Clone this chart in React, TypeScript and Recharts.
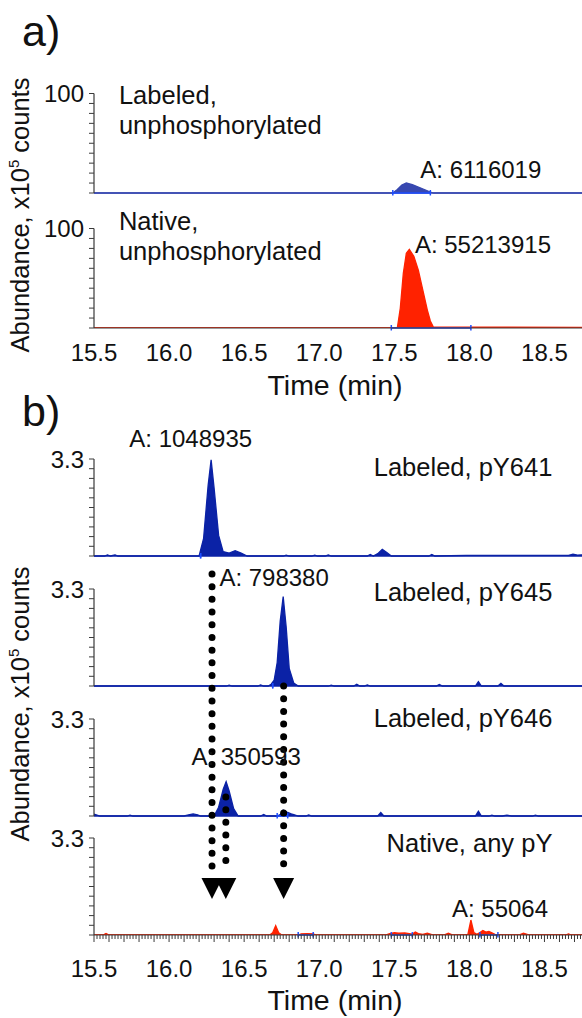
import React from "react";
import { ComposedChart, Area, XAxis, YAxis, ReferenceLine, ReferenceDot } from "recharts";

type Pt = [number, number];

// time (min), abundance. Panel a in x10^5 counts (0-100), panel b (0-3.3)
const labeledUnphos: Pt[] = [
  [15.5, 0], [17.49, 0], [17.52, 3.5], [17.55, 8], [17.58, 10], [17.62, 8.5], [17.66, 6],
  [17.7, 3.5], [17.74, 1], [17.76, 0], [18.75, 0],
];
const nativeUnphos: Pt[] = [
  [15.5, 0], [17.52, 0], [17.54, 20], [17.56, 55], [17.58, 75], [17.6, 79], [17.63, 72],
  [17.66, 58], [17.69, 38], [17.72, 18], [17.74, 7], [17.76, 1], [18.75, 0.5],
];
const labeledPY641: Pt[] = [
  [15.5, 0], [15.57, 0], [15.59, 0.04], [15.61, 0], [15.64, 0.04], [15.66, 0], [16.2, 0],
  [16.23, 0.6], [16.26, 2.4], [16.28, 3.27], [16.3, 2.3], [16.33, 0.7], [16.36, 0.15],
  [16.4, 0.1], [16.44, 0.18], [16.48, 0.1], [16.52, 0], [16.76, 0], [16.78, 0.03], [16.8, 0],
  [16.95, 0], [16.97, 0.03], [16.99, 0], [17.04, 0], [17.06, 0.04], [17.08, 0], [17.32, 0],
  [17.34, 0.05], [17.36, 0], [17.39, 0.08], [17.42, 0.23], [17.45, 0.12], [17.48, 0],
  [17.73, 0], [17.75, 0.05], [17.77, 0], [17.98, 0.02], [18.66, 0.02], [18.69, 0.06],
  [18.72, 0.03], [18.75, 0.04],
];
const labeledPY645: Pt[] = [
  [15.5, 0], [16.38, 0], [16.4, 0.03], [16.42, 0], [16.59, 0], [16.61, 0.04], [16.63, 0],
  [16.66, 0], [16.68, 0.06], [16.7, 0.2], [16.72, 0.8], [16.74, 2.2], [16.76, 3.04],
  [16.78, 2.0], [16.8, 0.6], [16.83, 0.1], [16.86, 0], [17.06, 0], [17.08, 0.03], [17.1, 0],
  [17.23, 0], [17.25, 0.06], [17.27, 0], [17.3, 0], [17.32, 0.04], [17.34, 0], [17.78, 0],
  [17.8, 0.05], [17.82, 0], [18.04, 0], [18.06, 0.15], [18.08, 0], [18.19, 0], [18.21, 0.09],
  [18.23, 0], [18.75, 0],
];
const labeledPY646: Pt[] = [
  [15.5, 0.06], [15.52, 0.03], [15.54, 0], [15.72, 0], [15.74, 0.03], [15.76, 0], [16.1, 0],
  [16.13, 0.04], [16.16, 0.07], [16.19, 0.04], [16.21, 0], [16.3, 0], [16.33, 0.3],
  [16.36, 0.9], [16.38, 1.17], [16.4, 0.85], [16.43, 0.25], [16.46, 0], [16.61, 0],
  [16.63, 0.05], [16.65, 0], [16.72, 0], [16.74, 0.05], [16.76, 0.2], [16.79, 0.12],
  [16.82, 0.06], [16.84, 0.03], [16.86, 0], [16.91, 0], [16.93, 0.04], [16.95, 0], [17.39, 0],
  [17.41, 0.12], [17.43, 0], [18.04, 0], [18.06, 0.16], [18.08, 0], [18.13, 0], [18.15, 0.03],
  [18.17, 0], [18.22, 0], [18.25, 0.03], [18.28, 0], [18.42, 0], [18.44, 0.03], [18.46, 0],
  [18.75, 0],
];
const nativeAnyPY: Pt[] = [
  [15.5, 0], [15.56, 0], [15.58, 0.05], [15.6, 0], [16.67, 0], [16.69, 0.08], [16.71, 0.32],
  [16.73, 0.08], [16.75, 0], [16.86, 0], [16.88, 0.04], [16.92, 0.05], [16.96, 0.04],
  [16.98, 0], [17.44, 0], [17.47, 0.05], [17.5, 0.08], [17.53, 0.06], [17.57, 0.07],
  [17.6, 0.05], [17.62, 0.03], [17.64, 0.1], [17.66, 0.05], [17.69, 0.02], [17.72, 0.06],
  [17.75, 0.01], [17.77, 0], [17.83, 0], [17.86, 0.06], [17.89, 0], [17.97, 0], [17.99, 0.02],
  [18.01, 0.51], [18.03, 0.08], [18.05, 0.02], [18.07, 0.08], [18.09, 0.15], [18.11, 0.1],
  [18.13, 0.12], [18.15, 0.07], [18.17, 0.02], [18.2, 0], [18.33, 0], [18.36, 0.06], [18.4, 0],
  [18.64, 0], [18.66, 0.04], [18.68, 0], [18.75, 0],
];

// integration windows (start, end) in min
const labeledUnphosMarks: Pt[] = [[17.49, 17.74]];
const nativeUnphosMarks: Pt[] = [[17.48, 18.01]];
const pY641Marks: Pt[] = [[16.21, 16.21]];
const pY645Marks: Pt[] = [[16.69, 16.69]];
const pY646Marks: Pt[] = [[16.72, 16.79]];
const nativeAnyMarks: Pt[] = [[16.86, 16.96], [17.48, 17.62], [18.07, 18.19]];

const X_LABELS = [15.5, 16.0, 16.5, 17.0, 17.5, 18.0, 18.5];
const X_FINE = Array.from({ length: 163 }, (_, i) => Math.round((15.5 + i * 0.02) * 100) / 100);

const FONT = '"Liberation Sans", Arial, Helvetica, sans-serif';
const AXIS = "#3a3a3a";
const INK = "#111";
const BLUE = "#0b22a6";
const BLUE_A = "#3848b0";
const RED = "#ff2200";
const MARK = "#1d4dff";
const TICK_FS = 24;
const TITLE_FS = 25.5;
const AREA_FS = 24;

interface Trace { data: Pt[]; color: string; marks: Pt[] }
interface Note { text: string; sub: number; t: number; h: number; anchor: "start" | "middle" | "end"; size: number }
interface Arrow { t: number; from: number; to: number }
interface PanelCfg {
  top: number;
  bases: number[];
  pxPerSub: number;
  ymax: number;
  topLabel: string;
  traces: Trace[];
  notes: Note[];
  arrows: Arrow[];
  fine: boolean;
  labelDy: number;
}

const panelA: PanelCfg = {
  top: 60,
  bases: [193, 328],
  pxPerSub: 99.5,
  ymax: 100,
  topLabel: "100",
  fine: false,
  labelDy: 24,
  traces: [
    { data: labeledUnphos, color: BLUE_A, marks: labeledUnphosMarks },
    { data: nativeUnphos, color: RED, marks: nativeUnphosMarks },
  ],
  notes: [
    { text: "Labeled,", sub: 0, t: 15.666, h: 0.985, anchor: "start", size: TITLE_FS },
    { text: "unphosphorylated", sub: 0, t: 15.666, h: 0.68, anchor: "start", size: TITLE_FS },
    { text: "A: 6116019", sub: 0, t: 17.673, h: 0.241, anchor: "start", size: AREA_FS },
    { text: "Native,", sub: 1, t: 15.666, h: 1.075, anchor: "start", size: TITLE_FS },
    { text: "unphosphorylated", sub: 1, t: 15.666, h: 0.77, anchor: "start", size: TITLE_FS },
    { text: "A: 55213915", sub: 1, t: 17.637, h: 0.837, anchor: "start", size: AREA_FS },
  ],
  arrows: [],
};

const panelB: PanelCfg = {
  top: 400,
  bases: [556, 686, 816, 935],
  pxPerSub: 97,
  ymax: 3.3,
  topLabel: "3.3",
  fine: true,
  labelDy: 33,
  traces: [
    { data: labeledPY641, color: BLUE, marks: pY641Marks },
    { data: labeledPY645, color: BLUE, marks: pY645Marks },
    { data: labeledPY646, color: BLUE, marks: pY646Marks },
    { data: nativeAnyPY, color: RED, marks: nativeAnyMarks },
  ],
  notes: [
    { text: "A: 1048935", sub: 0, t: 16.144, h: 1.213, anchor: "middle", size: AREA_FS },
    { text: "Labeled, pY641", sub: 0, t: 18.553, h: 0.914, anchor: "end", size: TITLE_FS },
    { text: "A: 798380", sub: 1, t: 16.335, h: 1.12, anchor: "start", size: AREA_FS },
    { text: "Labeled, pY645", sub: 1, t: 18.553, h: 0.966, anchor: "end", size: TITLE_FS },
    { text: "Labeled, pY646", sub: 2, t: 18.553, h: 1.007, anchor: "end", size: TITLE_FS },
    { text: "A: 350593", sub: 2, t: 16.513, h: 0.611, anchor: "middle", size: AREA_FS },
    { text: "Native, any pY", sub: 3, t: 18.553, h: 0.945, anchor: "end", size: TITLE_FS },
    { text: "A: 55064", sub: 3, t: 18.204, h: 0.275, anchor: "middle", size: AREA_FS },
  ],
  // dotted arrows linking peak times to the native trace (y in chart units)
  arrows: [
    { t: 16.286, from: 3.722, to: 0.371 },
    { t: 16.378, from: 1.423, to: 0.371 },
    { t: 16.763, from: 2.567, to: 0.371 },
  ],
};

function XTick({ x, y, payload, fine, labelDy }: any) {
  const v = payload.value as number;
  const tenth = Math.abs(v * 10 - Math.round(v * 10)) < 1e-6;
  const half = Math.abs(v * 2 - Math.round(v * 2)) < 1e-6;
  return (
    <g>
      {fine && <line x1={x} x2={x} y1={y} y2={y + (tenth ? 7 : 4)} stroke={AXIS} strokeWidth={1} />}
      {half && (
        <text x={x} y={y + labelDy} textAnchor="middle" dominantBaseline="central" fontSize={TICK_FS} fill={INK}>
          {v.toFixed(1)}
        </text>
      )}
    </g>
  );
}

function DottedArrow(p: any) {
  const { x1, y1, y2 } = p;
  return (
    <g>
      <line x1={x1} x2={x1} y1={y1} y2={y2 - 27} stroke="#000" strokeWidth={7}
        strokeLinecap="round" strokeDasharray="0 12.7" />
      <polygon points={`${x1 - 10.5},${y2 - 21} ${x1 + 10.5},${y2 - 21} ${x1},${y2}`} fill="#000" />
    </g>
  );
}

function Panel({ cfg }: { cfg: PanelCfg }) {
  const bottom = cfg.bases[cfg.bases.length - 1];
  const offs = cfg.bases.map((b) => (bottom - b) / cfg.pxPerSub);
  const yTop = offs[0] + 1;
  const plotH = yTop * cfg.pxPerSub;
  const marginTop = bottom - plotH - cfg.top;
  const axisH = 60;
  const height = marginTop + plotH + axisH;
  const yTicks = offs.flatMap((o) => Array.from({ length: 11 }, (_, k) => o + k / 10));

  return (
    <div style={{ position: "absolute", left: 0, top: cfg.top }}>
      <ComposedChart width={582} height={height} margin={{ top: marginTop, right: 0, bottom: 0, left: 0 }}>
        <XAxis
          type="number"
          dataKey="t"
          domain={[15.5, 18.75]}
          allowDataOverflow
          ticks={cfg.fine ? X_FINE : X_LABELS}
          interval={0}
          tickSize={0}
          tickMargin={0}
          tickLine={false}
          axisLine={{ stroke: AXIS, strokeWidth: 1.2 }}
          height={axisH}
          tick={(p: any) => <XTick {...p} fine={cfg.fine} labelDy={cfg.labelDy} />}
        />
        <YAxis
          type="number"
          domain={[0, yTop]}
          allowDataOverflow
          ticks={yTicks}
          interval={0}
          width={94}
          axisLine={false}
          tickLine={{ stroke: AXIS }}
          tickSize={5}
          tickMargin={5}
          tickFormatter={(v: number, i: number) => (i % 11 === 10 ? cfg.topLabel : "")}
          tick={{ fontSize: TICK_FS, fill: INK }}
        />
        {offs.map((o, i) => (
          <ReferenceLine key={"ax" + i} segment={[{ x: 15.5, y: o }, { x: 15.5, y: o + 1 }]}
            stroke={AXIS} strokeWidth={1.2} ifOverflow="visible" />
        ))}
        {cfg.traces.map((tr, i) => (
          <Area
            key={"tr" + i}
            data={tr.data.map(([t, v]) => ({ t, y: [offs[i], offs[i] + v / cfg.ymax] }))}
            dataKey="y"
            type="linear"
            stroke={tr.color}
            strokeWidth={1.3}
            fill={tr.color}
            fillOpacity={1}
            dot={false}
            activeDot={false}
            isAnimationActive={false}
          />
        ))}
        {cfg.traces.flatMap((tr, i) =>
          tr.marks.flatMap(([a, b], j) => [
            <ReferenceLine key={`m${i}-${j}`} segment={[{ x: a, y: offs[i] }, { x: b, y: offs[i] }]}
              stroke={MARK} strokeWidth={1.5} ifOverflow="visible" />,
            <ReferenceLine key={`ma${i}-${j}`} segment={[{ x: a, y: offs[i] - 0.025 }, { x: a, y: offs[i] + 0.03 }]}
              stroke={MARK} strokeWidth={1.5} ifOverflow="visible" />,
            <ReferenceLine key={`mb${i}-${j}`} segment={[{ x: b, y: offs[i] - 0.025 }, { x: b, y: offs[i] + 0.03 }]}
              stroke={MARK} strokeWidth={1.5} ifOverflow="visible" />,
          ])
        )}
        {cfg.arrows.map((a, i) => (
          <ReferenceLine key={"ar" + i} segment={[{ x: a.t, y: a.from }, { x: a.t, y: a.to }]}
            ifOverflow="visible" shape={(p: any) => <DottedArrow {...p} />} />
        ))}
        {cfg.notes.map((n, i) => (
          <ReferenceDot
            key={"n" + i}
            x={n.t}
            y={offs[n.sub] + n.h}
            r={0}
            ifOverflow="visible"
            shape={(p: any) => (
              <text x={p.cx} y={p.cy} textAnchor={n.anchor} dominantBaseline="central" fontSize={n.size} fill={INK}>
                {n.text}
              </text>
            )}
          />
        ))}
      </ComposedChart>
    </div>
  );
}

const YTitle = ({ cy }: { cy: number }) => (
  <div
    style={{
      position: "absolute",
      left: 20,
      top: cy,
      transform: "translate(-50%, -50%) rotate(-90deg)",
      whiteSpace: "nowrap",
      fontSize: 25.5,
      lineHeight: 1,
    }}
  >
    Abundance, x10<span style={{ fontSize: 15, verticalAlign: 10 }}>5</span> counts
  </div>
);

const Caption = ({ cy, text }: { cy: number; text: string }) => (
  <div style={{ position: "absolute", left: 335, top: cy, transform: "translate(-50%, -50%)", fontSize: 28.5, lineHeight: 1, whiteSpace: "nowrap" }}>
    {text}
  </div>
);

export default function App() {
  return (
    <div style={{ position: "absolute", left: 0, top: 0, width: 582, height: 1018, background: "#fff", fontFamily: FONT, color: INK, overflow: "hidden" }}>
      <div style={{ position: "absolute", left: 22, top: 10, fontSize: 43, lineHeight: 1 }}>a)</div>
      <div style={{ position: "absolute", left: 22, top: 390, fontSize: 43, lineHeight: 1 }}>b)</div>
      <Panel cfg={panelA} />
      <Panel cfg={panelB} />
      <YTitle cy={215} />
      <YTitle cy={704} />
      <Caption cy={385} text="Time (min)" />
      <Caption cy={1000} text="Time (min)" />
    </div>
  );
}
